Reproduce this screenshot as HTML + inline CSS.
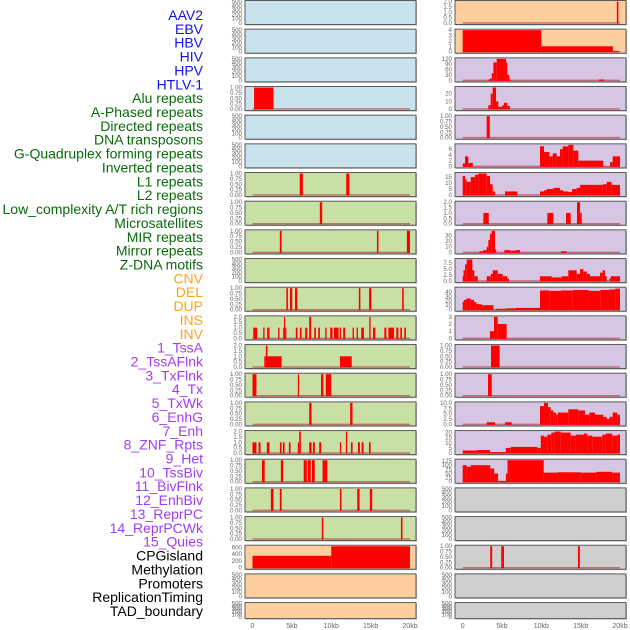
<!DOCTYPE html>
<html><head><meta charset="utf-8"><style>
html,body{margin:0;padding:0;background:#fff;width:630px;height:630px;overflow:hidden}
svg{display:block}
</style></head><body>
<svg id="chart" width="630" height="630" xmlns="http://www.w3.org/2000/svg"></svg>
<script>
// ---- data ----
const trackLabels = ["AAV2","EBV","HBV","HIV","HPV","HTLV-1","Alu repeats","A-Phased repeats","Directed repeats","DNA transposons","G-Quadruplex forming repeats","Inverted repeats","L1 repeats","L2 repeats","Low_complexity A/T rich regions","Microsatellites","MIR repeats","Mirror repeats","Z-DNA motifs","CNV","DEL","DUP","INS","INV","1_TssA","2_TssAFlnk","3_TxFlnk","4_Tx","5_TxWk","6_EnhG","7_Enh","8_ZNF_Rpts","9_Het","10_TssBiv","11_BivFlnk","12_EnhBiv","13_ReprPC","14_ReprPCWk","15_Quies","CPGisland","Methylation","Promoters","ReplicationTiming","TAD_boundary"];
const labelGroups = [6,13,5,15,5];
const xTickValues = [0,5000,10000,15000,20000];
const xTickLabels = ["0","5kb","10kb","15kb","20kb"];
const empty500 = [0,100,200,300,400,500];
const ticks1 = [0,0.25,0.5,0.75,1];
const tickLabels1 = ["0.00","0.25","0.50","0.75","1.00"];
const ticks2 = [0,0.5,1,1.5,2];
const tickLabels2 = ["0.0","0.5","1.0","1.5","2.0"];

// left panel segments [startKb, endKb, value]
const leftSegs = [
 [],[],[],
 [[0.2,2.67,1]],
 [],[],
 [[6.0,6.4,1],[11.9,12.3,1]],
 [[8.55,8.85,1]],
 [[3.47,3.7,1],[15.8,16.0,1],[19.6,20.0,1]],
 [],
 [[4.3,4.5,1],[4.75,5.05,1],[5.4,5.7,1],[13.5,13.7,1],[14.8,15.1,1],[19.0,19.2,1]],
 [[0.1,0.6,1],[1.36,1.53,1],[1.86,2.16,1],[3.26,3.43,1],[3.9,4.0,1],[4.0,4.15,2],[4.15,4.24,1],[5.5,5.72,1],[6.02,6.23,1],[6.7,6.95,1],[7.2,7.45,2],[7.84,8.05,1],[8.35,8.56,1],[9.24,9.41,1],[9.87,10.17,1],[10.34,10.93,1],[11.06,11.23,1],[11.52,11.78,1],[12.71,12.88,1],[13.22,13.39,1],[13.81,14.15,1],[14.83,15.0,2],[15.3,15.6,1],[16.74,17.0,1],[17.25,17.97,1],[18.26,18.52,1],[18.77,18.98,1],[19.28,19.49,1]],
 [[1.5,1.7,1],[1.7,1.9,2],[1.9,3.7,1],[11.1,12.6,1]],
 [[0.0,0.5,1],[5.76,5.9,1],[8.7,9.0,1],[9.3,10.0,1]],
 [[7.2,7.5,1],[12.4,12.7,1]],
 [[0.0,0.5,1],[0.77,1.02,1],[1.82,2.16,1],[3.48,3.69,1],[3.86,4.07,1],[4.62,4.83,1],[5.76,5.93,1],[5.93,6.14,2],[7.2,7.5,1],[7.67,7.92,1],[8.47,8.73,1],[11.1,11.27,1],[11.86,12.03,2],[12.5,12.71,1],[13.39,13.64,1],[13.86,14.11,1],[14.79,15.0,1]],
 [[1.2,1.55,1],[3.6,3.9,1],[6.5,6.9,1],[7.0,7.4,1],[7.55,7.9,1],[8.9,9.5,1]],
 [[2.33,2.67,1],[3.47,3.7,1],[11.1,11.3,1],[13.3,13.6,1],[14.9,15.2,1]],
 [[8.8,9.0,1],[18.85,19.05,1]],
 [[0.0,10.0,350],[10.0,20.0,630]],
 [],[]
];
const leftMax = [500,500,500,1,500,500,1,1,1,500,1,2,2,1,1,2,1,1,1,630,500,500];
const leftTicks = [empty500,empty500,empty500,ticks1,empty500,empty500,ticks1,ticks1,ticks1,empty500,ticks1,ticks2,ticks2,ticks1,ticks1,ticks2,ticks1,ticks1,ticks1,[0,200,400,600],empty500,empty500];
const leftTickLabels = leftTicks.map(t=>t===ticks1?tickLabels1:t===ticks2?tickLabels2:t.map(String));
const leftBg = ["#c8e3eb","#c8e3eb","#c8e3eb","#c8e3eb","#c8e3eb","#c8e3eb","#c8e0a5","#c8e0a5","#c8e0a5","#c8e0a5","#c8e0a5","#c8e0a5","#c8e0a5","#c8e0a5","#c8e0a5","#c8e0a5","#c8e0a5","#c8e0a5","#c8e0a5","#fdcf9e","#fdcf9e","#fdcf9e"];

// right panel segments
const rightSegs = [
 [[19.6,19.8,2]],
 [[0.0,10.0,4],[10.0,19.1,1],[19.1,19.8,0.1]],
 [[3.26,3.47,5],[3.47,3.69,10],[3.69,3.9,40],[3.9,4.32,100],[4.32,5.5,120],[5.5,5.68,100],[5.68,5.93,30],[5.93,6.1,5],[17.3,17.97,5]],
 [[3.26,3.56,5],[3.56,3.81,20],[3.81,4.24,30],[4.24,4.53,10],[4.53,5.04,3],[5.04,5.25,5],[5.25,5.68,8],[5.68,6.02,4]],
 [[3.05,3.45,1]],
 [[0.0,0.3,1],[0.3,0.72,3.5],[0.72,1.27,1.2],[9.83,10.34,7],[10.34,11.02,5],[11.02,11.44,3.5],[11.44,11.95,4.5],[11.95,12.37,3.5],[12.37,12.71,6],[12.71,13.43,7],[13.43,14.07,8],[14.07,14.7,5.5],[14.7,17.88,2],[18.73,19.07,1.5],[19.07,20.0,3.5]],
 [[0.0,0.3,16],[0.3,0.51,13],[0.51,1.02,11],[1.02,1.57,15],[1.57,1.99,17],[1.99,3.05,18],[3.05,3.47,16],[3.47,3.81,9],[3.81,4.11,3],[5.38,6.95,3],[9.83,10.34,3],[10.34,10.68,4],[10.68,11.53,5],[11.53,12.37,6],[12.37,12.8,4],[12.8,13.43,3],[13.43,13.9,2.5],[13.9,14.49,5],[14.49,14.92,6],[14.92,17.8,8.5],[17.8,18.31,9],[18.31,18.94,11],[18.94,20.0,8.5]],
 [[2.63,3.31,1],[10.76,11.53,1],[13.14,13.73,1],[14.53,14.92,2],[14.92,15.13,1]],
 [[2.12,2.63,2],[2.63,3.05,4],[3.05,3.26,10],[3.26,3.47,22],[3.47,3.69,33],[3.69,4.11,40],[4.11,4.24,5],[5.3,6.02,4],[6.02,6.74,3],[6.74,7.29,4],[12.5,13.22,2]],
 [[0.0,0.1,2],[0.1,0.3,4.5],[0.3,0.51,7],[0.51,1.23,9],[1.23,1.48,4.5],[1.48,1.91,2],[3.05,3.56,2],[3.56,3.81,3],[3.81,4.45,4.5],[4.45,5.08,3],[5.08,5.68,2],[5.68,5.89,1],[9.83,11.31,2],[11.31,12.58,1.5],[12.58,13.43,2],[13.43,14.49,4.5],[14.49,14.92,3],[14.92,15.34,5],[15.34,15.76,4],[15.76,16.19,3],[16.19,17.46,2],[17.46,17.8,3.5],[17.8,18.09,4.5],[18.09,18.31,2],[18.64,18.81,1],[18.81,20.0,2]],
 [[0.0,0.17,18],[0.17,0.47,22],[0.47,1.02,25],[1.02,1.44,22],[1.44,1.74,17],[1.74,2.08,13],[2.08,2.5,12],[2.5,3.9,10],[4.2,5.47,2],[5.47,6.74,3],[6.74,9.83,4],[9.83,11.0,43],[11.0,12.5,42],[12.5,14.0,43],[14.0,16.0,44],[16.0,17.5,42],[17.5,18.6,44],[18.6,19.4,45],[19.4,20.0,47]],
 [[3.47,3.98,1],[3.98,4.45,3],[4.45,5.59,2]],
 [[3.6,4.7,1]],
 [[3.22,3.69,1]],
 [[3.05,4.11,1],[5.38,6.23,1],[9.83,10.34,8.5],[10.34,10.85,10],[10.85,11.19,8],[11.19,11.53,6.5],[11.53,11.86,5.5],[11.86,12.08,4.5],[12.08,13.43,5.5],[13.43,14.7,7],[14.7,15.55,6.5],[15.55,16.1,4.5],[16.1,16.82,5.5],[16.82,17.88,4.5],[17.88,18.31,3.5],[18.31,18.64,2.5],[18.64,19.07,3.5],[19.07,19.66,5.5],[19.66,20.0,4.5]],
 [[0.0,1.78,2.5],[1.78,3.47,3],[3.47,5.47,1],[5.47,6.1,5],[6.1,9.49,6],[9.49,9.92,5],[9.92,10.34,17],[10.34,10.76,16],[10.76,11.27,18],[11.27,11.69,20],[11.69,12.46,21],[12.46,13.73,20],[13.73,14.36,17],[14.36,15.42,18],[15.42,15.85,19],[15.85,16.48,17],[16.48,17.75,16],[17.75,18.18,18],[18.18,19.02,19],[19.02,19.66,17],[19.66,20.0,18]],
 [[0.0,0.5,100],[0.5,1.0,90],[1.0,3.5,100],[3.5,4.0,80],[4.0,4.5,50],[4.5,5.5,5],[5.5,5.7,50],[5.7,10.3,140],[10.3,12.0,55],[12.0,15.0,57],[15.0,17.0,55],[17.0,19.0,60],[19.0,20.0,55]],
 [],[],
 [[3.5,3.75,1],[4.9,5.25,1],[14.65,14.9,1]],
 [],[]
];
const rightMax = [2,4,120,28,1,7.5,18,2,38,9,48,3,1,1,10,21,130,500,500,1,500,500];
const rightTicks = [ticks2,[0,1,2,3,4],[0,30,60,90,120],[0,10,20],ticks1,[0,2,4,6],[0,5,10,15],ticks2,[0,10,20,30],[0,2.5,5,7.5],[0,10,20,30,40],[0,1,2,3],ticks1,ticks1,[0,2.5,5,7.5,10],[0,5,10,15,20],[0,25,50,75,100,125],empty500,empty500,ticks1,empty500,empty500];
const rightTickLabels = rightTicks.map((t,i)=>t===ticks1?tickLabels1:t===ticks2?tickLabels2:t.map(v=>(i===9||i===14)?v.toFixed(1):String(v)));
const rightBg = ["#fdcf9e","#fdcf9e","#d7c6e3","#d7c6e3","#d7c6e3","#d7c6e3","#d7c6e3","#d7c6e3","#d7c6e3","#d7c6e3","#d7c6e3","#d7c6e3","#d7c6e3","#d7c6e3","#d7c6e3","#d7c6e3","#d7c6e3","#cfcfcf","#cfcfcf","#cfcfcf","#cfcfcf","#cfcfcf"];

// ---- drawing ----
const NS="http://www.w3.org/2000/svg";
const svg=document.getElementById('chart');
function mk(tag,attrs,parent){const e=document.createElementNS(NS,tag);for(const k in attrs)e.setAttribute(k,attrs[k]);(parent||svg).appendChild(e);return e;}
const rowPitch=28.67;
function rowTop(i){return i*rowPitch+0.5;}
function rowH(i){return i===21?16:24;}
const panels=[{x0:245,x1:416,d0:252.5,d1:410,segs:leftSegs,max:leftMax,ticks:leftTicks,tl:leftTickLabels,bg:leftBg,side:'left'},
              {x0:455,x1:626,d0:462.7,d1:620,segs:rightSegs,max:rightMax,ticks:rightTicks,tl:rightTickLabels,bg:rightBg,side:'right'}];

panels.forEach(p=>{
  const xs=kb=>p.d0+(kb/20)*(p.d1-p.d0);
  for(let i=0;i<22;i++){
    const t=rowTop(i),h=rowH(i);
    const g=mk('g',{});
    
    
    mk('rect',{x:p.x0+1,y:t+1,width:p.x1-p.x0,height:h,fill:'#b8b8b8'},g);
    const bgRect=mk('rect',{x:p.x0,y:t,width:p.x1-p.x0,height:h,fill:p.bg[i],stroke:'#5a5a5a','stroke-width':1},g);
    
    
    const y0=t+h-1.5, yTop=t+1;
    const ys=v=>y0-(v/p.max[i])*(y0-yTop);
    const segs=p.segs[i];
    if(segs.length){
      const base=mk('line',{x1:xs(0),x2:xs(20),y1:y0,y2:y0,stroke:'#b03030','stroke-width':1.5,opacity:0.6},g);
      
      
    }
    segs.forEach(s=>{
      const v=Math.min(s[2],p.max[i]);
      const r=mk('rect',{x:xs(s[0]),y:ys(v),width:Math.max(xs(s[1])-xs(s[0]),1.2),height:y0-ys(v)+0.5,fill:'#ff0000'},g);
      
      
    });
    p.ticks[i].forEach((tv,k)=>{
      const ty=ys(tv);
      const tx=mk('text',{x:p.x0-3,y:ty+2,'font-size':6.2,fill:'#666','text-anchor':'end','font-family':'Liberation Sans, sans-serif'},g);
      tx.textContent=p.tl[i][k];
      
      
    });
  }
  xTickValues.forEach((v,k)=>{
    const tx=mk('text',{x:xs(v/1000),y:628,'font-size':7,fill:'#666','text-anchor':'middle','font-family':'Liberation Sans, sans-serif'});
    tx.textContent=xTickLabels[k];
    
    
  });
});

const groupColors=["#1010ee","#0a6a0a","#ffa31a","#a23cf0","#000000"];
let idx=0;
labelGroups.forEach((n,gi)=>{
  for(let k=0;k<n;k++){
    const y=15+idx*13.86+5;
    const tx=mk('text',{x:203,y:y,'font-size':14,fill:groupColors[gi],'text-anchor':'end','font-family':'Liberation Sans, sans-serif'});
    tx.textContent=trackLabels[idx];
    
    
    idx++;
  }
});
</script>
</body></html>
